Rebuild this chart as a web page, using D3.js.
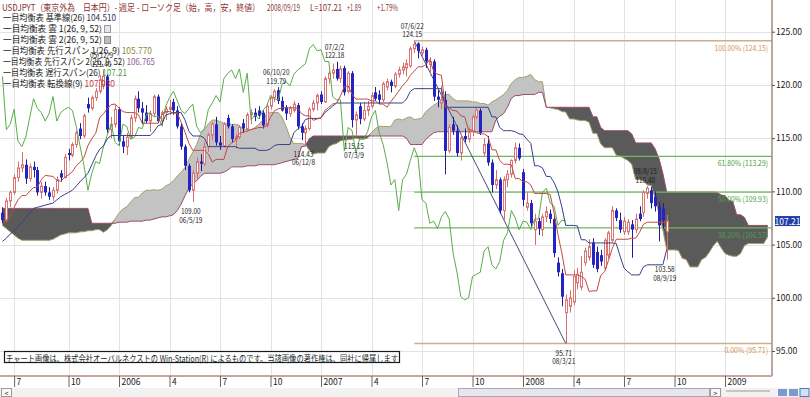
<!DOCTYPE html>
<html>
<head>
<meta charset="utf-8">
<script src="https://cdn.jsdelivr.net/npm/d3@7"></script>
<style>
body { margin: 0; background: #fff; }
svg { display: block; }
text { font-family: "Noto Sans CJK JP", "Liberation Sans", sans-serif; }
</style>
</head>
<body>
<div id="chart"></div>
<script>
// weekly USD/JPY candles, first week ends 2005-06-10 (Friday)
const firstWeek = new Date(2005, 5, 10);

const opens = [108.0,107.3,109.1,109.9,111.3,112.2,112.5,111.2,112.3,112.0,
  109.9,110.5,109.9,109.5,110.1,111.7,111.3,113.6,113.4,114.4,
  115.9,115.2,118.2,117.8,118.8,119.4,120.0,120.8,115.8,116.3,
  117.7,114.7,114.2,115.1,116.9,118.7,117.8,117.4,116.6,117.3,
  118.9,116.6,117.4,117.7,118.4,117.6,116.1,114.2,112.4,110.1,
  111.7,112.8,112.6,114.2,115.3,116.3,114.6,114.3,116.9,116.1,
  114.9,115.1,116.4,115.9,117.2,117.4,117.6,117.4,116.2,118.0,
  118.8,119.5,118.5,117.9,117.3,117.6,118.1,116.1,115.5,115.9,
  117.7,118.3,119.1,118.4,120.6,121.1,121.5,120.6,121.6,119.4,
  121.1,116.7,118.0,116.8,117.6,118.0,119.3,119.1,118.6,119.8,
  120.3,119.9,121.0,121.4,121.6,121.8,123.4,123.9,123.0,123.3,
  121.9,122.2,118.9,118.3,118.6,113.8,116.3,115.7,113.6,115.2,
  114.9,115.6,117.0,117.6,113.6,114.5,112.7,110.6,111.1,108.2,
  111.1,111.6,112.9,114.1,111.8,108.5,108.9,106.4,107.2,106.4,
  107.6,107.9,107.4,103.3,102.3,98.6,99.2,99.6,101.4,101.0,
  103.3,103.8,105.2,104.3,104.0,102.8,104.0,105.4,108.2,107.3,
  106.2,106.2,106.9,106.4,107.9,108.0,109.8,110.1,109.5,108.6,
  108.4,106.2];

const highs = [108.5,109.4,110.1,111.6,112.8,113.7,113.0,112.6,112.8,112.3,
  110.9,110.9,110.4,110.4,111.4,112.0,113.5,114.0,114.6,115.7,
  116.4,117.3,118.8,119.0,119.7,120.9,121.4,121.0,117.0,118.1,
  117.9,115.3,115.5,117.2,119.0,119.4,118.4,118.1,117.6,119.1,
  119.1,117.6,118.0,118.6,118.7,118.0,116.4,114.4,112.6,112.0,
  113.2,113.5,114.6,115.5,116.5,117.0,115.2,116.5,117.2,116.3,
  115.4,116.2,116.8,117.4,117.7,117.8,118.0,117.6,118.3,119.0,
  119.6,119.79,118.9,118.1,118.0,118.5,118.3,116.4,116.2,117.9,
  118.6,119.2,119.4,120.8,121.4,122.0,122.18,121.8,121.8,121.3,
  121.3,117.5,118.3,118.4,118.5,119.3,119.8,119.5,120.3,120.6,
  120.5,121.2,121.7,122.1,122.4,123.6,124.15,124.0,123.6,123.5,
  122.6,122.4,119.5,119.9,119.4,116.3,117.0,116.2,115.4,115.9,
  116.0,117.2,117.9,117.8,115.0,115.2,113.0,112.0,111.3,111.4,
  112.0,113.0,114.6,114.5,112.1,109.9,109.2,107.9,107.5,107.9,
  108.6,108.3,107.8,103.8,102.7,100.3,100.7,102.6,102.8,103.9,
  104.7,105.5,105.6,104.8,104.5,105.6,106.3,108.6,108.4,108.0,
  107.6,107.4,107.3,107.9,108.6,110.1,110.48,110.4,110.0,109.0,
  108.9,107.8];

const lows = [107.0,107.1,108.5,109.7,110.9,111.8,110.7,110.9,111.3,109.6,
  109.3,109.6,109.2,109.1,109.8,110.9,111.2,112.9,113.2,114.1,
  114.9,115.0,117.4,117.6,118.5,119.2,119.6,115.5,115.0,116.0,
  114.3,113.6,113.4,114.9,116.5,117.4,116.3,116.4,115.6,117.0,
  116.4,116.1,116.7,117.2,117.2,115.9,113.9,112.0,109.9,109.0,
  111.2,111.9,112.4,113.7,114.8,114.3,113.9,114.1,115.9,114.6,
  114.0,114.9,115.5,115.7,116.3,116.6,116.8,115.9,116.0,117.7,
  118.4,118.2,117.5,116.7,117.0,117.4,115.8,114.8,114.43,115.7,
  117.5,117.6,118.2,118.3,120.1,120.6,120.4,120.2,119.0,119.2,
  116.0,115.15,116.3,116.6,117.1,117.8,118.5,118.2,118.4,119.5,
  119.3,119.7,120.7,121.0,120.8,121.6,123.0,122.5,122.6,121.6,
  120.9,118.5,117.9,117.7,111.6,113.6,115.3,113.3,112.9,114.6,
  114.6,115.2,116.8,115.3,113.3,112.4,109.9,110.2,107.9,107.2,
  110.4,111.3,112.6,112.9,108.6,108.2,106.6,104.97,105.9,105.8,
  107.1,107.0,103.8,102.0,99.2,95.71,98.6,99.3,100.8,100.7,
  103.0,103.5,102.8,102.4,103.0,102.6,103.7,105.2,107.2,106.1,
  105.9,105.9,103.76,106.1,107.2,107.6,109.3,108.4,108.1,105.3,
  106.5,103.58];

const closes = [107.3,109.1,109.9,111.3,112.2,112.5,111.2,112.3,112.0,109.9,
  110.5,109.9,109.5,110.1,111.1,111.3,113.2,113.4,114.4,115.5,
  115.2,117.1,117.8,118.8,119.4,120.5,120.8,115.8,116.3,117.7,
  114.7,114.2,115.1,116.9,118.7,117.8,117.4,116.6,117.3,118.9,
  116.6,117.4,117.7,117.9,117.6,116.1,114.2,112.4,110.1,111.7,
  112.8,112.6,114.2,115.3,116.3,114.6,114.3,116.3,116.1,114.9,
  115.1,116.0,115.9,117.2,117.4,117.0,117.1,116.2,118.0,118.8,
  119.4,118.5,117.6,117.3,117.8,118.2,116.1,115.5,115.9,117.7,
  118.3,119.0,118.4,120.6,121.1,121.4,120.6,121.5,119.3,121.1,
  116.7,117.2,116.8,117.6,118.0,119.0,118.7,118.6,120.1,120.3,
  119.9,121.0,121.4,121.7,122.0,123.4,123.8,123.2,123.3,122.2,
  122.2,118.9,118.6,118.6,113.8,116.0,115.7,113.6,115.0,114.9,
  115.6,117.0,117.6,115.5,114.4,112.7,110.6,111.1,108.2,111.1,
  111.6,112.9,114.1,113.1,109.2,108.9,107.0,107.2,106.5,107.6,
  108.1,107.4,104.2,102.4,100.1,99.8,100.0,102.0,102.2,102.4,
  104.4,104.8,103.1,102.7,103.4,105.4,106.1,108.2,107.5,106.4,
  107.2,107.1,106.4,107.4,107.4,109.9,110.3,108.9,108.6,106.8,
  107.3,107.21];

// 転換線 (9)
const tenkan = [107.0,107.2,107.6,108.5,109.2,109.6,109.6,110.0,110.35,110.4,
  111.1,111.5,111.45,111.4,111.05,110.95,111.3,111.55,111.85,112.4,
  112.75,113.2,114.3,114.95,115.45,116.9,117.3,117.75,118.15,118.2,
  117.85,117.5,117.4,117.4,117.4,117.2,116.4,116.4,116.4,116.4,
  116.4,117.15,117.5,117.5,117.35,117.35,116.5,115.55,114.5,113.85,
  113.85,113.85,113.85,113.5,112.75,113.0,113.0,113.0,114.2,114.55,
  114.8,115.45,115.55,115.65,115.8,115.9,116.0,116.0,116.15,116.95,
  117.55,117.75,117.85,117.85,117.85,117.85,117.8,117.3,117.1,117.1,
  116.67,116.8,116.9,117.6,117.9,118.2,118.3,118.95,119.85,119.9,
  119.1,118.67,118.67,118.67,118.67,118.5,118.5,118.2,118.2,117.9,
  118.45,118.9,119.4,119.95,120.3,120.9,121.3,121.7,121.7,121.9,
  122.4,121.3,121.0,120.9,117.9,117.8,117.6,117.55,117.1,117.0,
  115.75,115.75,115.5,115.4,115.4,115.15,113.9,113.9,112.9,112.55,
  112.55,112.5,111.2,111.2,110.9,110.9,110.6,109.8,109.8,109.8,
  109.8,109.7,107.95,105.95,104.2,102.15,102.15,102.15,102.15,102.0,
  101.75,100.6,100.65,100.65,102.1,102.45,103.5,104.65,105.5,105.5,
  105.5,105.5,105.6,105.6,106.15,106.9,107.1,107.1,107.1,107.1,
  107.1,107.03];

// 基準線 (26)
const kijun = [105.3,105.6,106.0,106.3,106.7,107.1,107.5,108.0,108.4,108.5,
  108.6,108.7,108.8,108.9,109.2,109.5,109.7,109.9,110.1,110.5,
  110.9,111.3,111.7,112.5,113.3,113.95,114.25,114.95,115.25,115.25,
  115.25,115.25,115.25,115.25,115.25,115.25,115.25,115.25,115.25,115.6,
  116.15,116.3,117.15,117.3,117.4,117.4,117.4,116.7,115.65,115.2,
  115.2,115.2,115.0,114.2,114.2,114.2,114.2,114.2,114.2,114.2,
  114.2,114.05,114.05,114.05,114.05,114.05,113.85,113.85,113.85,114.0,
  114.3,114.4,114.4,114.4,114.4,115.5,115.85,116.1,116.75,116.85,
  116.85,116.85,116.9,117.4,117.7,118.0,118.3,118.3,118.3,118.3,
  118.3,118.3,118.3,118.3,118.3,118.3,118.3,118.3,118.3,118.3,
  118.3,118.3,118.3,118.3,118.67,119.4,119.65,119.65,119.65,119.65,
  119.65,119.65,119.65,119.65,117.9,117.9,117.9,117.9,117.9,117.9,
  117.9,117.9,117.9,117.9,117.9,117.9,117.0,117.0,116.0,115.7,
  115.7,115.7,115.6,115.4,115.35,114.9,114.5,112.4,112.4,112.2,
  111.4,111.4,110.85,109.95,108.55,106.8,106.8,106.8,106.75,105.45,
  105.45,105.15,105.15,105.15,105.15,105.15,105.15,105.15,105.1,103.9,
  102.8,102.45,102.15,102.15,102.15,102.9,103.1,103.1,103.1,103.1,
  103.1,104.54];

// 先行スパン 1, plotted 26 weeks ahead (index = plotted week)
const spanA = [106.8,106.5,106.2,105.9,105.6,105.4,105.4,105.4,105.4,105.4,
  105.4,105.4,105.4,105.5,105.7,105.9,106.0,106.1,106.1,106.1,
  106.2,106.2,106.3,106.3,106.4,106.4,106.15,106.4,106.8,107.4,
  107.95,108.35,108.55,109.0,109.4,109.45,109.85,110.1,110.1,110.15,
  110.1,110.2,110.5,110.7,111.0,111.45,111.8,112.25,113.0,113.7,
  114.4,115.4,115.8,116.35,116.7,116.7,116.55,116.4,116.3,116.3,
  116.3,116.2,115.8,115.8,115.8,116.0,116.3,116.7,117.3,117.4,
  117.4,117.4,116.95,116.1,115.1,114.5,114.5,114.5,114.4,113.85,
  113.5,113.6,113.6,113.6,114.2,114.4,114.5,114.75,114.8,114.85,
  114.9,115.0,114.9,114.9,115.0,115.5,115.9,116.1,116.1,116.1,
  116.1,116.7,116.8,116.7,116.9,117.0,116.75,116.8,116.9,117.5,
  117.8,118.1,118.3,118.6,119.1,119.1,118.7,118.5,118.5,118.5,
  118.5,118.4,118.4,118.25,118.25,118.1,118.4,118.6,118.85,119.1,
  119.5,120.15,120.5,120.7,120.7,120.8,121.0,120.5,120.3,120.3,
  117.9,117.85,117.75,117.7,117.5,117.45,116.8,116.8,116.7,116.65,
  116.65,116.5,115.45,115.45,114.45,114.1,114.1,114.1,113.4,113.3,
  113.1,112.9,112.55,111.1,111.1,111.0,110.6,110.55,109.4,107.95,
  106.4,104.5,104.5,104.5,104.45,103.7,103.6,102.9,102.9,102.9,
  103.6,103.8,104.3,104.9,105.3,104.7,104.15,104.0,103.9,103.9,
  104.15,104.9,105.1,105.1,105.1,105.1,105.1,105.8];

// 先行スパン 2, plotted 26 weeks ahead
const spanB = [108.4,108.4,108.4,108.4,108.4,108.4,108.4,108.4,108.4,108.4,
  108.4,108.4,108.4,108.4,108.4,108.4,108.4,108.4,108.4,108.4,
  108.4,108.4,108.4,107.0,107.0,107.0,107.0,107.0,107.0,107.0,
  107.1,107.1,107.1,107.2,107.2,107.2,107.2,107.3,107.3,107.4,
  107.5,107.6,107.6,107.7,107.8,108.2,108.8,109.6,110.3,110.7,
  111.0,111.4,111.7,111.7,111.7,111.7,111.7,111.8,112.0,112.3,
  112.3,112.3,112.3,112.4,112.4,112.4,112.5,112.5,112.5,112.5,
  112.5,112.6,112.7,112.8,112.9,113.0,113.1,114.2,114.25,114.95,
  115.2,115.2,115.2,115.2,115.2,115.2,115.2,115.2,115.2,115.2,
  115.2,115.2,115.2,115.2,115.2,115.2,115.2,115.2,115.2,115.2,
  115.2,115.2,115.2,115.2,115.0,114.4,114.4,114.4,114.4,114.9,
  115.2,115.5,115.6,115.6,115.6,115.6,115.6,115.6,115.6,115.6,
  115.6,115.6,115.6,115.6,115.6,115.6,115.6,116.7,117.05,117.3,
  117.9,118.75,119.0,119.0,119.1,119.1,119.1,119.1,119.3,119.3,
  117.9,117.9,117.9,117.9,117.9,117.9,117.9,117.9,117.9,117.9,
  117.9,117.9,117.0,117.0,116.0,115.7,115.7,115.7,115.7,115.7,
  115.7,115.7,115.4,114.55,114.55,114.55,114.55,114.55,114.0,113.1,
  111.7,109.93,109.93,109.93,109.93,109.93,109.93,109.93,109.93,109.93,
  109.93,109.93,109.93,109.93,109.9,109.65,109.6,109.15,109.05,107.8,
  107.8,107.55,106.8,106.8,106.8,106.8,106.8,106.8];

const priceTicks = [95, 100, 105, 110, 115, 120, 125];
const tickDates = ["2005-07-01","2005-10-07","2006-01-06","2006-04-07","2006-07-07","2006-10-06",
  "2007-01-05","2007-04-06","2007-07-06","2007-10-05","2008-01-04","2008-04-04","2008-07-04",
  "2008-10-03","2009-01-02"];
const tickLabels = ["7","10","2006","4","7","10","2007","4","7","10","2008","4","7","10","2009"];

// [week index, date label, price label]
const highMarks = [[26,"05/12/9","121.40"],[71,"06/10/20","119.79"],[86,"07/2/2","122.18"],
  [106,"07/6/22","124.15"],[166,"08/8/15","110.48"]];
const lowMarks = [[49,"06/5/19","109.00"],[78,"06/12/8","114.43"],[91,"07/3/9","115.15"],
  [145,"08/3/21","95.71"],[171,"08/9/19","103.58"]];

const fibLabels = ["100.00%","61.80%","50.00%","38.20%","0.00%"];
const fibValues = [124.15, 113.29, 109.93, 106.57, 95.71];

const legendNames = ["一目均衡表 基準線(26) ","一目均衡表 雲 1(26, 9, 52)","一目均衡表 雲 2(26, 9, 52)",
  "一目均衡表 先行スパン 1(26, 9) ","一目均衡表 先行スパン 2(26, 9, 52) ","一目均衡表 遅行スパン(26) ",
  "一目均衡表 転換線(9) "];
const legendValues = ["104.510","","","105.770","106.765","107.21","107.030"];

const W = 810, H = 397;
const plotR = 772, plotB = 376;
const parse = d3.timeParse("%Y-%m-%d");

const weeks = d3.timeFriday.range(firstWeek, d3.timeDay.offset(firstWeek, 7 * spanA.length));

const x = d3.scaleTime()
  .domain([new Date(2007, 0, 5), new Date(2009, 0, 2)])
  .range([321, 725]);
const y = d3.scaleLinear().domain([95, 125]).range([351, 31.7]);

const svg = d3.select("#chart").append("svg")
  .attr("width", W).attr("height", H)
  .style("background", "white");

svg.append("clipPath").attr("id", "plot")
  .append("rect").attr("x", 0).attr("y", 0).attr("width", plotR).attr("height", plotB);

// grid
const grid = svg.append("g").attr("stroke", "#e2e2e2").attr("stroke-width", 1);
grid.selectAll(".gv").data(tickDates).enter().append("line")
  .attr("x1", d => Math.round(x(parse(d))) + 0.5).attr("x2", d => Math.round(x(parse(d))) + 0.5)
  .attr("y1", 0).attr("y2", plotB);
grid.selectAll(".gh").data(priceTicks).enter().append("line")
  .attr("x1", 0).attr("x2", plotR)
  .attr("y1", d => Math.round(y(d)) + 0.5).attr("y2", d => Math.round(y(d)) + 0.5);

const plot = svg.append("g").attr("clip-path", "url(#plot)");
const idx = d3.range(spanA.length);

// cloud
const lightArea = d3.area()
  .x(i => x(weeks[i]))
  .y0(i => y(spanB[i]))
  .y1(i => y(Math.max(spanA[i], spanB[i])));
const darkArea = d3.area()
  .x(i => x(weeks[i]))
  .y0(i => y(spanA[i]))
  .y1(i => y(Math.max(spanA[i], spanB[i])));
plot.append("path").datum(idx).attr("d", lightArea).attr("fill", "#c3c3c3");
plot.append("path").datum(idx).attr("d", darkArea).attr("fill", "#5a5a5a");

const lineOf = arr => d3.line().x(i => x(weeks[i])).y(i => y(arr[i]));
plot.append("path").datum(idx).attr("d", lineOf(spanA))
  .attr("fill", "none").attr("stroke", "#a3a06a").attr("stroke-width", 1);
plot.append("path").datum(idx).attr("d", lineOf(spanB))
  .attr("fill", "none").attr("stroke", "#9c4a6e").attr("stroke-width", 1);

// fibonacci retracement
const fibStart = x(weeks[106]);
fibValues.forEach((v, k) => {
  const edge = k === 0 || k === fibValues.length - 1;
  plot.append("line")
    .attr("x1", fibStart).attr("x2", plotR)
    .attr("y1", y(v)).attr("y2", y(v))
    .attr("stroke", edge ? "#c9b089" : "#6cb860")
    .attr("stroke-width", edge ? 1.6 : 1.3);
  const label = fibLabels[k] + " (" + v.toFixed(2) + ")";
  svg.append("text")
    .attr("x", 768).attr("y", y(v) + 6.5)
    .attr("text-anchor", "end").attr("dominant-baseline", "central")
    .attr("font-family", "Liberation Sans").attr("font-size", 8)
    .attr("textLength", label.length * 3.35).attr("lengthAdjust", "spacingAndGlyphs")
    .attr("fill", edge ? "#d4965a" : "#4aa048")
    .text(label);
});

// trend line from top to bottom
plot.append("line")
  .attr("x1", x(weeks[106])).attr("y1", y(highs[106]))
  .attr("x2", x(weeks[145])).attr("y2", y(lows[145]))
  .attr("stroke", "#4a4a78").attr("stroke-width", 1);

// candles
const candles = plot.append("g");
closes.forEach((c, i) => {
  const o = opens[i], up = c >= o;
  const cx = Math.round(x(weeks[i])) + 0.5;
  const col = up ? "#dc7474" : "#2424c4";
  candles.append("line")
    .attr("x1", cx).attr("x2", cx)
    .attr("y1", y(highs[i])).attr("y2", y(lows[i]))
    .attr("stroke", up ? "#d07070" : "#1e1e90").attr("stroke-width", 1);
  const top = y(Math.max(o, c)), bot = y(Math.min(o, c));
  if (up) {
    candles.append("rect")
      .attr("x", cx - 1).attr("y", top).attr("width", 2).attr("height", Math.max(1, bot - top))
      .attr("fill", "#fff").attr("stroke", col).attr("stroke-width", 1);
  } else {
    candles.append("rect")
      .attr("x", cx - 1.5).attr("y", top).attr("width", 3).attr("height", Math.max(1, bot - top))
      .attr("fill", col);
  }
});

// lagging span: close drawn 26 weeks back
const chikouIdx = d3.range(26, closes.length);
plot.append("path").datum(chikouIdx)
  .attr("d", d3.line().x(i => x(weeks[i - 26])).y(i => y(closes[i])))
  .attr("fill", "none").attr("stroke", "#5aac4c").attr("stroke-width", 1);

const kIdx = d3.range(kijun.length);
plot.append("path").datum(kIdx).attr("d", lineOf(kijun))
  .attr("fill", "none").attr("stroke", "#34408a").attr("stroke-width", 1);
plot.append("path").datum(kIdx).attr("d", lineOf(tenkan))
  .attr("fill", "none").attr("stroke", "#c04a42").attr("stroke-width", 1);

// high / low annotations
const markText = (tx, ty, s) => svg.append("text")
  .attr("x", tx).attr("y", ty)
  .attr("text-anchor", "middle").attr("dominant-baseline", "central")
  .attr("font-family", "Liberation Sans").attr("font-size", 7.5)
  .attr("textLength", s.length * 3.3).attr("lengthAdjust", "spacingAndGlyphs")
  .attr("fill", "#202020").text(s);
highMarks.forEach(([i, d, v]) => {
  const px = x(weeks[i]) - 2, py = y(highs[i]);
  markText(px, py - 15.5, d);
  markText(px, py - 7, v);
});
lowMarks.forEach(([i, d, v]) => {
  const px = x(weeks[i]) - 2, py = y(lows[i]);
  markText(px, py + 9, v);
  markText(px, py + 17.5, d);
});

// axes
const yAxis = d3.axisRight(y).tickValues(priceTicks).tickFormat(d3.format(".2f")).tickSize(3);
const ya = svg.append("g").attr("transform", `translate(${plotR},0)`).call(yAxis);
ya.select(".domain").attr("stroke", "#a08c80").attr("stroke-width", 1.5).attr("d", `M0,0V${plotB}`);
ya.selectAll(".tick line").attr("stroke", "#555");
ya.selectAll(".tick text").attr("x", 4).attr("font-family", "Liberation Sans")
  .attr("font-size", 8.5).attr("fill", "#222");

const xAxis = d3.axisBottom(x).tickValues(tickDates.map(parse))
  .tickFormat((d, k) => tickLabels[k]).tickSize(11);
const xa = svg.append("g").attr("transform", `translate(0,${plotB})`).call(xAxis);
xa.select(".domain").attr("stroke", "#c9a4a0").attr("stroke-width", 2).attr("d", `M0,0H${plotR}`);
xa.selectAll(".tick line").attr("stroke", "#666");
xa.selectAll(".tick text").attr("x", 2).attr("y", 3).attr("dy", "0.71em")
  .attr("text-anchor", "start").attr("font-family", "Liberation Sans")
  .attr("font-size", 8.5).attr("fill", "#222");

// current price box
svg.append("rect").attr("x", 775).attr("y", y(closes[closes.length - 1]) - 5)
  .attr("width", 25).attr("height", 10).attr("fill", "#1f3fa8");
svg.append("text").attr("x", 787.5).attr("y", y(closes[closes.length - 1]))
  .attr("text-anchor", "middle").attr("dominant-baseline", "central")
  .attr("font-family", "Liberation Sans").attr("font-size", 8.5).attr("fill", "#fff")
  .text(closes[closes.length - 1].toFixed(2));

// header
const head = [
  ["USDJPYT（東京外為　日本円）- 週足 - ローソク足（始，高，安，終値）", 2, 258],
  ["2008/09/19", 267, 33], ["L=107.21", 310, 32], ["+1.89", 347, 14], ["+1.79%", 377, 21]
];
head.forEach(([s, hx, len]) => svg.append("text")
  .attr("x", hx).attr("y", 7).attr("dominant-baseline", "central")
  .attr("font-size", 9).attr("fill", "#8a3434")
  .attr("textLength", len).attr("lengthAdjust", "spacingAndGlyphs").text(s));

// legend
const legendLen = [113, 99, 99, 149, 152, 124, 112];
const valueColors = ["#303050", "", "", "#8c8a3c", "#8e5a96", "#4aa040", "#c84040"];
legendNames.forEach((name, k) => {
  const t = svg.append("text").attr("x", 3).attr("y", 17 + k * 11)
    .attr("dominant-baseline", "central").attr("font-size", 8.6).attr("fill", "#1a1a1a")
    .attr("textLength", legendLen[k]).attr("lengthAdjust", "spacingAndGlyphs");
  t.append("tspan").text(name);
  if (legendValues[k]) t.append("tspan").attr("fill", valueColors[k]).text(legendValues[k]);
});
svg.append("rect").attr("x", 104.5).attr("y", 25.5).attr("width", 6).attr("height", 7)
  .attr("fill", "#e6e6e6").attr("stroke", "#9a9a9a");
svg.append("rect").attr("x", 104.5).attr("y", 36.5).attr("width", 6).attr("height", 7)
  .attr("fill", "#bdbdbd").attr("stroke", "#8a8a8a");

// copyright note
svg.append("rect").attr("x", 4.5).attr("y", 351.5).attr("width", 395).attr("height", 11)
  .attr("fill", "#fff").attr("stroke", "#1a1a1a").attr("stroke-width", 1.2);
svg.append("text").attr("x", 6).attr("y", 357.5).attr("dominant-baseline", "central")
  .attr("font-size", 8.6).attr("fill", "#1a2a2a")
  .attr("textLength", 392).attr("lengthAdjust", "spacingAndGlyphs")
  .text("チャート画像は、株式会社オーバルネクストの Win-Station(R) によるものです。当該画像の著作権は、同社に帰属します");

// scroll bar strip
const bar = svg.append("g");
bar.append("rect").attr("x", 0).attr("y", 388).attr("width", W).attr("height", 9).attr("fill", "#f2f2f2");
bar.append("rect").attr("x", 1.5).attr("y", 388.5).attr("width", 10).attr("height", 8)
  .attr("fill", "#f8f8f8").attr("stroke", "#9a9a9a");
bar.append("text").attr("x", 6.5).attr("y", 393).attr("text-anchor", "middle")
  .attr("dominant-baseline", "central").attr("font-size", 7).attr("fill", "#333").text("<");
bar.append("rect").attr("x", 458.5).attr("y", 388.5).attr("width", 251).attr("height", 8)
  .attr("fill", "#e6e6ec").attr("stroke", "#a8a8b0");
bar.append("rect").attr("x", 710.5).attr("y", 388.5).attr("width", 10).attr("height", 8)
  .attr("fill", "#f8f8f8").attr("stroke", "#9a9a9a");
bar.append("text").attr("x", 715.5).attr("y", 393).attr("text-anchor", "middle")
  .attr("dominant-baseline", "central").attr("font-size", 7).attr("fill", "#333").text(">");
bar.append("line").attr("x1", 726).attr("x2", 770).attr("y1", 391).attr("y2", 391)
  .attr("stroke", "#9a9a9a");
bar.append("rect").attr("x", 778).attr("y", 389).attr("width", 9).attr("height", 7).attr("fill", "#7a9ad0");
bar.append("rect").attr("x", 789).attr("y", 389).attr("width", 9).attr("height", 7).attr("fill", "#7a9ad0");
bar.append("rect").attr("x", 800).attr("y", 388.5).attr("width", 9).attr("height", 8)
  .attr("fill", "#cfe3f5").attr("stroke", "#4a7ac0");
</script>
</body>
</html>
